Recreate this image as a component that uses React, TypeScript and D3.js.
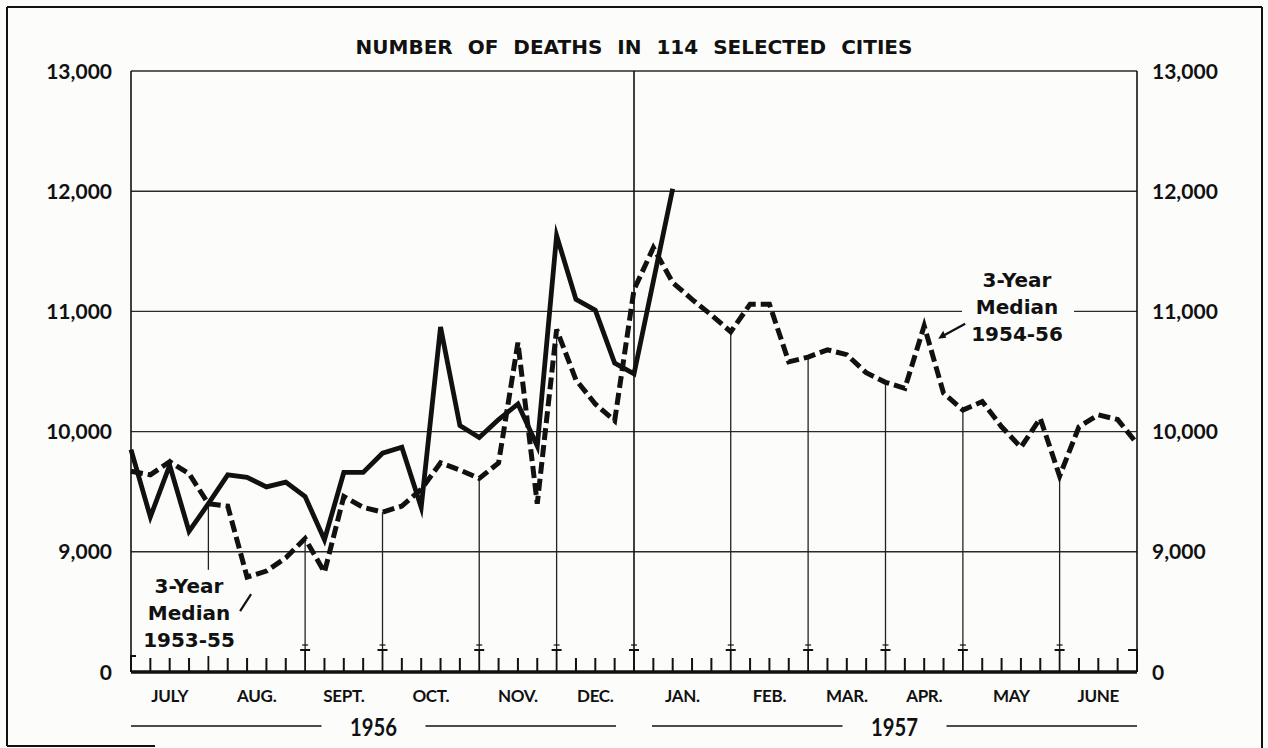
import React from 'react';
import * as d3 from 'd3';

const WIDTH = 1268;
const HEIGHT = 748;

// weekly deaths, week 0 = first week of July 1956
const deaths1956_57 = [
  9850, 9290, 9720, 9170, 9400, 9640, 9620, 9540, 9580, 9460,
  9100, 9660, 9660, 9820, 9870, 9370, 10870, 10050, 9950, 10100,
  10230, 9880, 11630, 11100, 11010, 10570, 10480, 11250, 12020,
];

// 3-year median (1953-55 for Jul-Dec, 1954-56 for Jan-Jun)
const medianDeaths = [
  9670, 9640, 9750, 9650, 9400, 9380, 8790, 8840, 8950, 9110,
  8830, 9460, 9370, 9330, 9380, 9520, 9740, 9680, 9610, 9740,
  10740, 9400, 10850, 10430, 10230, 10090, 11180, 11530, 11240, 11100,
  10970, 10830, 11060, 11060, 10580, 10620, 10680, 10640, 10490, 10410,
  10360, 10880, 10320, 10180, 10250, 10040, 9870, 10110, 9630, 10040,
  10140, 10100, 9900,
];

const monthLabels = ['JULY', 'AUG.', 'SEPT.', 'OCT.', 'NOV.', 'DEC.', 'JAN.', 'FEB.', 'MAR.', 'APR.', 'MAY', 'JUNE'];
const monthWeeks = [4, 5, 4, 5, 4, 4, 5, 4, 4, 4, 5, 4];
const yearLabels = ['1956', '1957'];
const yTickValues = [8000, 9000, 10000, 11000, 12000, 13000];
const yTickLabels = ['0', '9,000', '10,000', '11,000', '12,000', '13,000'];
const leftNote = ['3-Year', 'Median', '1953-55'];
const rightNote = ['3-Year', 'Median', '1954-56'];

const INK = '#111';
const PAPER = '#fcfcfb';
const numFont = 'Lato, sans-serif';
const noteFont = '"DejaVu Sans", sans-serif';

const App: React.FC = () => {
  const left = 131;
  const right = 1137;
  const top = 71;
  const base = 672;
  const totalWeeks = d3.sum(monthWeeks);

  const x = d3.scaleLinear().domain([0, totalWeeks]).range([left, right]);
  const y = d3.scaleLinear().domain([8000, 13000]).range([base, top]);

  const line = d3.line<number>()
    .x((_, i) => x(i))
    .y(d => y(d));

  const ends = Array.from(d3.cumsum(monthWeeks));
  const starts = [0, ...ends.slice(0, -1)];
  const yearSplit = ends[5]; // Dec / Jan
  const boundaries = ends.slice(0, -1);
  const tickWeeks = d3.range(1, totalWeeks).filter(w => !boundaries.includes(w));

  // year bands
  const years = [
    { label: yearLabels[0], x0: x(0), x1: x(yearSplit) - 18 },
    { label: yearLabels[1], x0: x(yearSplit) + 18, x1: x(totalWeeks) },
  ];

  const lx = x(3);
  const ly = y(9000);
  const rx = x(45.8);
  const ry = y(11000);
  const ax = x(41);
  const ay = y(medianDeaths[41]);
  const kx = x(6);
  const ky = y(medianDeaths[6]);

  return (
    <div style={{ position: 'absolute', left: 0, top: 0 }}>
      <svg width={WIDTH} height={HEIGHT} style={{ display: 'block', background: PAPER }}>
        {/* frame */}
        <g stroke={INK} strokeWidth={2} fill="none">
          <line x1={7} y1={7} x2={7} y2={746} />
          <line x1={7} y1={7} x2={1262} y2={7} />
          <line x1={1262} y1={7} x2={1262} y2={748} />
          <line x1={7} y1={746} x2={155} y2={746} />
        </g>

        <text x={634} y={54} textAnchor="middle" fontFamily={noteFont} fontWeight={700}
          fontSize={20} wordSpacing={8} fill={INK}>
          NUMBER OF DEATHS IN 114 SELECTED CITIES
        </text>

        {/* horizontal grid */}
        {yTickValues.slice(1).map(v => (
          <line key={v} x1={left} x2={right} y1={y(v)} y2={y(v)} stroke="#2a2a2a" strokeWidth={1.4} />
        ))}
        {yTickValues.map((v, i) => (
          <g key={'yl' + v} fontFamily={numFont} fontWeight={700} fontSize={21} fill={INK}>
            <text x={112} y={y(v)} dy="0.36em" textAnchor="end">{yTickLabels[i]}</text>
            <text x={1152} y={y(v)} dy="0.36em" textAnchor="start">{yTickLabels[i]}</text>
          </g>
        ))}

        {/* axes */}
        <g stroke={INK} strokeWidth={1.6}>
          <line x1={left} x2={left} y1={top} y2={base} />
          <line x1={right} x2={right} y1={top} y2={base} />
          <line x1={x(yearSplit)} x2={x(yearSplit)} y1={top} y2={base} />
        </g>

        {/* month divider lines up to the median */}
        {boundaries.filter(w => w !== yearSplit).map(w => (
          <line key={'m' + w} x1={x(w)} x2={x(w)} y1={y(medianDeaths[w])} y2={650}
            stroke="#222" strokeWidth={1.3} />
        ))}

        {/* week ticks and month marks */}
        <g stroke={INK} fill="none">
          {tickWeeks.map(w => (
            <line key={'t' + w} x1={x(w)} x2={x(w)} y1={658} y2={base} strokeWidth={2} />
          ))}
          {boundaries.map(w => (
            <g key={'b' + w}>
              <line x1={x(w)} x2={x(w)} y1={650} y2={base} strokeWidth={1.8} />
              <line x1={x(w) - 5} x2={x(w) + 5} y1={650} y2={650} strokeWidth={2} />
              <line x1={x(w) - 3} x2={x(w) + 3} y1={645} y2={645} strokeWidth={1.2} />
            </g>
          ))}
          <path d={`M${left + 5},656 H${left} V${base}`} strokeWidth={2} />
          <path d={`M${right - 9},650 H${right} V${base}`} strokeWidth={2} />
          <line x1={left} x2={right} y1={base} y2={base} strokeWidth={3.5} />
        </g>

        {/* series */}
        <path d={line(medianDeaths) ?? ''} fill="none" stroke={INK} strokeWidth={5}
          strokeDasharray="12,5" strokeLinejoin="miter" />
        <path d={line(deaths1956_57) ?? ''} fill="none" stroke={INK} strokeWidth={4.8}
          strokeLinejoin="miter" strokeMiterlimit={6} />

        {/* month labels */}
        {monthLabels.map((m, i) => (
          <text key={m} x={x((starts[i] + ends[i]) / 2)} y={702} textAnchor="middle"
            fontFamily={numFont} fontWeight={700} fontSize={17} letterSpacing={-0.3} fill={INK}>
            {m}
          </text>
        ))}

        {/* years */}
        {years.map(yr => {
          const cx = (yr.x0 + yr.x1) / 2;
          return (
            <g key={yr.label}>
              <line x1={yr.x0} x2={cx - 52} y1={726} y2={726} stroke={INK} strokeWidth={1.5} />
              <line x1={cx + 52} x2={yr.x1} y1={726} y2={726} stroke={INK} strokeWidth={1.5} />
              <text x={cx} y={736} textAnchor="middle" fontFamily={numFont} fontWeight={700}
                fontSize={24} textLength={47} lengthAdjust="spacingAndGlyphs" fill={INK}>
                {yr.label}
              </text>
            </g>
          );
        })}

        {/* annotations */}
        <rect x={lx - 48} y={ly + 18} width={98} height={y(8000) - ly - 34} fill={PAPER} />
        {leftNote.map((t, i) => (
          <text key={'ln' + i} x={lx} y={ly + 41 + i * 27} textAnchor="middle"
            fontFamily={noteFont} fontWeight={700} fontSize={20} fill={INK}>{t}</text>
        ))}
        <line x1={kx - 7} y1={ky + 34} x2={kx + 4} y2={ky + 17} stroke={INK} strokeWidth={2.2} />

        <rect x={rx - 55} y={ry - 45} width={112} height={80} fill={PAPER} />
        {rightNote.map((t, i) => (
          <text key={'rn' + i} x={rx} y={ry - 24 + i * 27} textAnchor="middle"
            fontFamily={noteFont} fontWeight={700} fontSize={20} fill={INK}>{t}</text>
        ))}
        <line x1={ax + 41} y1={ay - 2} x2={ax + 19} y2={ay + 10} stroke={INK} strokeWidth={2.2} />
        <path d={`M${ax + 14},${ay + 13} L${ax + 19},${ay + 5} L${ax + 22},${ay + 12} Z`} fill={INK} />
      </svg>
    </div>
  );
};

export default App;
